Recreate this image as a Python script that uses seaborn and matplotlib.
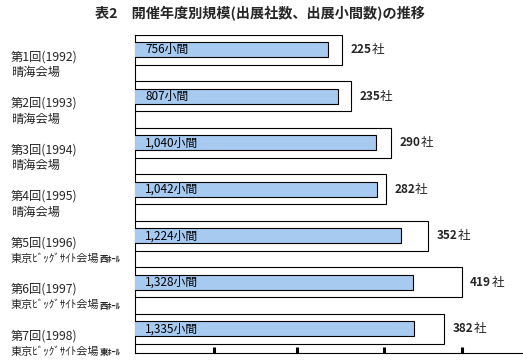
import matplotlib
matplotlib.use("Agg")
import matplotlib.pyplot as plt
import seaborn as sns
import pandas as pd
from matplotlib import transforms

# data
sessions = ["第1回(1992)", "第2回(1993)", "第3回(1994)", "第4回(1995)",
            "第5回(1996)", "第6回(1997)", "第7回(1998)"]
venues = ["晴海会場", "晴海会場", "晴海会場", "晴海会場",
          "東京ﾋﾞｯｸﾞｻｲﾄ会場", "東京ﾋﾞｯｸﾞｻｲﾄ会場", "東京ﾋﾞｯｸﾞｻｲﾄ会場"]
halls = ["", "", "", "", "西ﾎｰﾙ", "西ﾎｰﾙ", "東ﾎｰﾙ"]
companies = [225, 235, 290, 282, 352, 419, 382]
booths = [756, 807, 1040, 1042, 1224, 1328, 1335]
tick_marks = [115, 178, 279, 419]

df = pd.DataFrame({"session": sessions, "companies": companies, "booths": booths})

sns.set_theme(style="white")
plt.rcParams["font.family"] = ["Noto Sans CJK JP", "DejaVu Sans"]

fig = plt.figure(figsize=(5.23, 3.61), dpi=100)
ax = fig.add_axes([135 / 523, 8 / 361, 388 / 523, 318 / 361])

# outer bars: number of exhibitors
sns.barplot(data=df, x="companies", y="session", orient="h", width=0.645,
            color="white", edgecolor="black", linewidth=0.8, saturation=1, ax=ax)
ax.set_xscale("log")
ax.set_xlim(76.4, 575.9)

# inner bars: number of booths
ax2 = ax.twiny()
sns.barplot(data=df, x="booths", y="session", orient="h", width=0.32,
            color="#A6CAF0", edgecolor="black", linewidth=0.8, saturation=1, ax=ax2)
ax2.set_xscale("log")
ax2.set_xlim(210.8, 2747)

ax.set_ylim(6.52, -0.32)
for a in (ax, ax2):
    a.set_xlabel("")
    a.set_ylabel("")
    a.set_yticks([])
    a.minorticks_off()
for s in ax2.spines.values():
    s.set_visible(False)
ax2.set_xticks([])
ax2.minorticks_off()

ax.spines["top"].set_visible(False)
ax.spines["right"].set_visible(False)
for s in ("left", "bottom"):
    ax.spines[s].set_linewidth(0.8)
    ax.spines[s].set_color("black")
ax.set_xticks(tick_marks)
ax.set_xticklabels([])
ax.minorticks_off()
ax.tick_params(axis="x", which="both", direction="in", length=4.5, width=2.2,
               color="black", bottom=True)

lab = transforms.blended_transform_factory(ax.transAxes, ax.transData)
for i, (s, v, h, c, b) in enumerate(zip(sessions, venues, halls, companies, booths)):
    # booth count inside the blue bar
    ax2.text(0.026, i, f"{b:,}小間", transform=lab, va="center", ha="left",
             fontsize=8.5, color="black")
    # company count right of the white bar
    t = ax.annotate(f"{c}", xy=(c, i), xytext=(6, 0), textcoords="offset points",
                    va="center", ha="left", fontsize=8.5, fontweight="bold")
    ax.annotate("社", xy=(1, 0.5), xycoords=t, va="center", ha="left", fontsize=9)
    # category labels on the left
    ax.text(-0.3196, i + 0.15, s, transform=lab, va="center", ha="left", fontsize=8.8)
    tv = ax.text(-0.3196, i + 0.49, v, transform=lab, va="center", ha="left",
                 fontsize=8.0 if h else 8.8)
    if h:
        ax.annotate(h, xy=(1, 0.4), xycoords=tv, va="center", ha="left",
                    fontsize=6, fontweight="bold")

fig.text(0.497, 1 - 14 / 361, "表2　開催年度別規模(出展社数、出展小間数)の推移",
         ha="center", va="center", fontsize=10.2, fontweight="bold")

fig.savefig("out.png", dpi=100)
